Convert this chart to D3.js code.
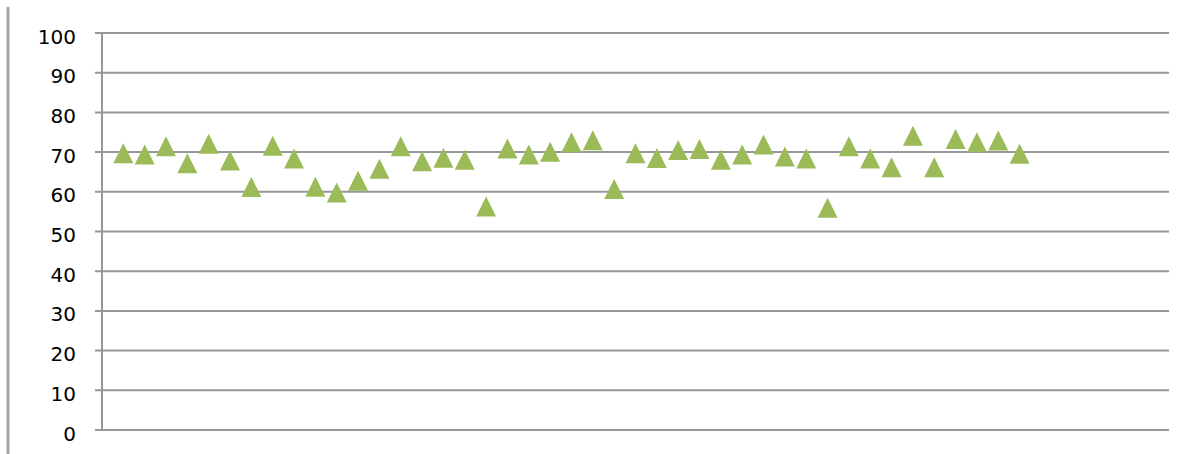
<!DOCTYPE html>
<html>
<head>
<meta charset="utf-8">
<script src="https://cdn.jsdelivr.net/npm/d3@7"></script>
<style>
  html, body { margin: 0; padding: 0; background: #fff; }
  svg { display: block; }
</style>
</head>
<body>
<svg id="chart" width="1196" height="454"></svg>
<script>
const xValues = [1,2,3,4,5,6,7,8,9,10,11,12,13,14,15,16,17,18,19,20,21,22,23,24,25,26,27,28,29,30,31,32,33,34,35,36,37,38,39,40,41,42,43];
const yValues = [69.7,69.4,71.5,67.2,72.1,67.9,61.2,71.6,68.4,61.3,59.8,62.8,65.8,71.5,67.7,68.6,68.1,56.3,70.9,69.4,70.1,72.5,73.0,60.7,69.7,68.5,70.5,70.8,68.1,69.4,71.9,68.9,68.4,56.0,71.5,68.4,66.2,74.1,66.2,73.3,72.5,72.9,69.6];
const yTicks = [0,10,20,30,40,50,60,70,80,90,100];
const xDomain = [0, 50];
const yDomain = [0, 100];

const svg = d3.select("#chart");
const x = d3.scaleLinear().domain(xDomain).range([102, 1169]);
const y = d3.scaleLinear().domain(yDomain).range([430, 33]);

// outer border fragment on the left
svg.append("line")
  .attr("x1", 8).attr("x2", 8).attr("y1", 7).attr("y2", 454)
  .attr("stroke", "#a6a6a6").attr("stroke-width", 3);

// gridlines
svg.append("g").selectAll("line").data(yTicks).join("line")
  .attr("x1", 95).attr("x2", 1169)
  .attr("y1", d => y(d)).attr("y2", d => y(d))
  .attr("stroke", "#979797").attr("stroke-width", 2);

// y axis
const yAxis = d3.axisLeft(y).tickValues(yTicks).tickSize(0).tickPadding(0);
const gy = svg.append("g").attr("transform", "translate(102,0)").call(yAxis);
gy.select(".domain").remove();
gy.selectAll("text")
  .attr("x", -26)
  .attr("dy", "0.5em")
  .attr("fill", "#000")
  .style("font-family", "'DejaVu Sans', sans-serif")
  .style("font-size", "20px");

svg.append("line")
  .attr("x1", 102).attr("x2", 102).attr("y1", y(100)).attr("y2", y(0))
  .attr("stroke", "#979797").attr("stroke-width", 2);

// markers
const tri = "M0,-10L10,10L-10,10Z";
svg.append("g").selectAll("path").data(xValues.map((v, i) => [v, yValues[i]])).join("path")
  .attr("d", tri)
  .attr("transform", d => `translate(${x(d[0])},${y(d[1])})`)
  .attr("fill", "#9bbb59");
</script>
</body>
</html>
